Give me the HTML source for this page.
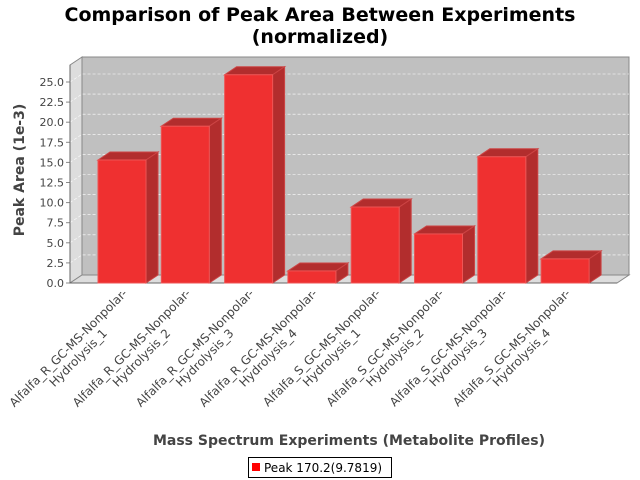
<!DOCTYPE html>
<html><head><meta charset="utf-8"><style>
body{margin:0;background:#fff}
svg{display:block;font-family:"DejaVu Sans","Liberation Sans",sans-serif}
</style></head><body>
<svg id="chart" width="640" height="480" viewBox="0 0 640 480">
<text x="320" y="21" text-anchor="middle" font-size="19" font-weight="bold" fill="#000">Comparison of Peak Area Between Experiments</text>
<text x="320" y="43" text-anchor="middle" font-size="19" font-weight="bold" fill="#000">(normalized)</text>
<g id="plot"></g>
<text transform="translate(24,170) rotate(-90)" text-anchor="middle" font-size="14" font-weight="bold" fill="#444">Peak Area (1e-3)</text>
<text x="349" y="445" text-anchor="middle" font-size="14" font-weight="bold" fill="#444">Mass Spectrum Experiments (Metabolite Profiles)</text>
<g>
<rect x="248.5" y="457.5" width="143" height="20" fill="#fff" stroke="#000"/>
<rect x="252" y="463" width="8" height="8" fill="#ff0000"/>
<text x="264" y="472" font-size="12" fill="#000">Peak 170.2(9.7819)</text>
</g>
</svg>
<script>
const categories=["Alfalfa_R_GC-MS-Nonpolar-|Hydrolysis_1","Alfalfa_R_GC-MS-Nonpolar-|Hydrolysis_2","Alfalfa_R_GC-MS-Nonpolar-|Hydrolysis_3","Alfalfa_R_GC-MS-Nonpolar-|Hydrolysis_4","Alfalfa_S_GC-MS-Nonpolar-|Hydrolysis_1","Alfalfa_S_GC-MS-Nonpolar-|Hydrolysis_2","Alfalfa_S_GC-MS-Nonpolar-|Hydrolysis_3","Alfalfa_S_GC-MS-Nonpolar-|Hydrolysis_4"];
const values=[15.3,19.5,25.9,1.5,9.45,6.1,15.7,3.0];
const yTicks=[0,2.5,5,7.5,10,12.5,15,17.5,20,22.5,25];
const yTickLabels=["0.0","2.5","5.0","7.5","10.0","12.5","15.0","17.5","20.0","22.5","25.0"];

const NS="http://www.w3.org/2000/svg";
const plot=document.getElementById('plot');
const X0=70,X1=617,Y0=283,YT=65,DX=12,DY=8;
const yScale=v=>Y0-v*(201/25);
const catLeft=i=>98+i*63.3;
const BW=48;
function mk(tag,attrs,parent){const e=document.createElementNS(NS,tag);for(const k in attrs)e.setAttribute(k,attrs[k]);(parent||plot).appendChild(e);return e;}
// walls
let w=mk('polygon',{points:`${X0},${Y0} ${X0+DX},${Y0-DY} ${X0+DX},${YT-DY} ${X0},${YT}`,fill:'#dddddd',stroke:'#888'});


w=mk('rect',{x:X0+DX,y:YT-DY,width:X1-X0,height:Y0-YT,fill:'#c0c0c0',stroke:'#888'});


w=mk('polygon',{points:`${X0},${Y0} ${X0+DX},${Y0-DY} ${X1+DX},${Y0-DY} ${X1},${Y0}`,fill:'#dddddd',stroke:'#888'});


// grid + ticks
yTicks.forEach((t,i)=>{
  const y=yScale(t);
  if(t>0){
    const g=mk('polyline',{points:`${X0},${y} ${X0+DX},${y-DY} ${X1+DX},${y-DY}`,fill:'none',stroke:'#fff','stroke-width':0.6,'stroke-dasharray':'3,2'});
    
    
  }
  const tk=mk('line',{x1:X0-4,y1:y,x2:X0,y2:y,stroke:'#888'});
  
  
  const tl=mk('text',{x:X0-6,y:y+4,'text-anchor':'end','font-size':11,fill:'#444'});
  tl.textContent=yTickLabels[i];
  
  
});
const ax=mk('line',{x1:X0,y1:YT,x2:X0,y2:Y0,stroke:'#666'});


const bx=mk('line',{x1:X0,y1:Y0,x2:X1,y2:Y0,stroke:'#666'});


// bars
values.forEach((v,i)=>{
  const x=catLeft(i),y=yScale(v);
  const g=mk('g',{});
  
  
  mk('polygon',{points:`${x},${y} ${x+DX},${y-DY} ${x+BW+DX},${y-DY} ${x+BW},${y}`,fill:'#b22d2d',stroke:'#c44'},g);
  mk('polygon',{points:`${x+BW},${y} ${x+BW+DX},${y-DY} ${x+BW+DX},${Y0-DY} ${x+BW},${Y0}`,fill:'#b22d2d',stroke:'#c44'},g);
  mk('rect',{x:x,y:y,width:BW,height:Y0-y,fill:'#ef3030',stroke:'#e55'},g);
});
// category labels
categories.forEach((c,i)=>{
  const [l1,l2]=c.split('|');
  const cx=catLeft(i)+BW/2+6;
  const g=mk('g',{transform:`translate(${cx},294) rotate(-45)`});
  
  
  const t1=mk('text',{x:0,y:0,'text-anchor':'end','font-size':12,fill:'#444'},g);
  t1.textContent=l1;
  let L=164;try{L=t1.getComputedTextLength()||164;}catch(e){}
  const t2=mk('text',{x:-L/2,y:14,'text-anchor':'middle','font-size':12,fill:'#444'},g);
  t2.textContent=l2;
});
</script>
</body></html>
